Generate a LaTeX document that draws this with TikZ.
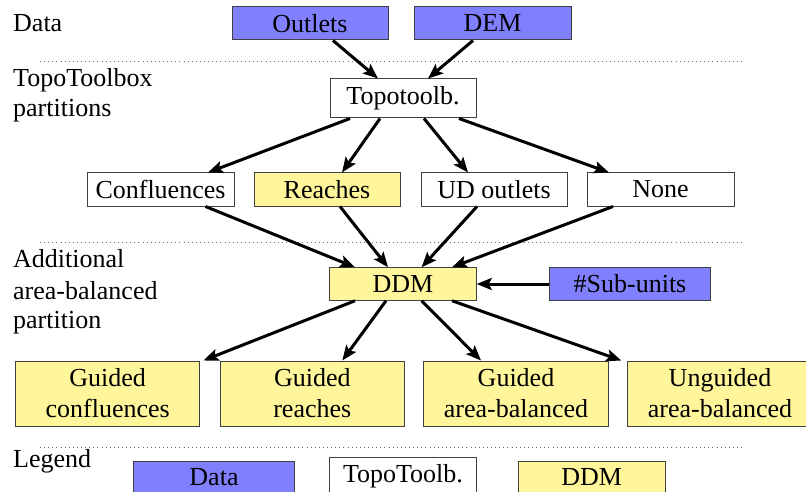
\documentclass[tikz,border=0pt]{standalone}
\usepackage{fontspec}
\setmainfont{Liberation Serif}
\usetikzlibrary{arrows.meta}
\definecolor{datablue}{RGB}{128,128,255}
\definecolor{ddmyellow}{RGB}{255,246,155}
\begin{document}
\begin{tikzpicture}[x=1pt,y=-1pt,
  font=\fontsize{26}{31}\selectfont,
  box/.style={draw=black!75,line width=1pt,rectangle,inner sep=0pt,align=center},
  databox/.style={box,fill=datablue},
  topobox/.style={box,fill=white},
  ddmbox/.style={box,fill=ddmyellow},
  conn/.style={line width=3pt,-{Stealth[length=15pt,width=12pt,inset=3pt]}},
  sep/.style={draw=black!60,line width=0.9pt,dash pattern=on 0.9pt off 3.2pt},
  lbl/.style={anchor=west,inner sep=0pt,align=left}]
\useasboundingbox (0,0) rectangle (806,492);
% separators
\draw[sep] (40,61) -- (743,61);
\draw[sep] (40,242) -- (743,242);
\draw[sep] (40,447) -- (743,447);
% labels
\node[lbl] (lData) at (13,23) {Data};
\node[lbl] (lTopo1) at (13,80) {TopoToolbox};
\node[lbl] (lTopo2) at (13,111) {partitions};
\node[lbl] (lAdd1) at (13,259) {Additional};
\node[lbl] (lAdd2) at (13,291) {area-balanced};
\node[lbl] (lAdd3) at (13,323) {partition};
\node[lbl] (lLeg) at (13,461) {Legend};
% nodes
\node[databox,minimum width=156pt,minimum height=33pt] (outlets) at (310,23.5) {Outlets};
\node[databox,minimum width=157pt,minimum height=33pt] (dem) at (492.5,23.5) {DEM};
\node[topobox,minimum width=146pt,minimum height=39pt] (topo) at (403,98.5) {Topotoolb.};
\node[topobox,minimum width=147pt,minimum height=33pt] (conf) at (160.5,189.5) {Confluences};
\node[ddmbox,minimum width=146pt,minimum height=33pt] (reach) at (327,189.5) {Reaches};
\node[topobox,minimum width=146pt,minimum height=33pt] (ud) at (494,189.5) {UD outlets};
\node[topobox,minimum width=147pt,minimum height=33pt] (none) at (660.5,189.5) {None};
\node[ddmbox,minimum width=146.5pt,minimum height=32.5pt] (ddm) at (403,284) {DDM};
\node[databox,minimum width=161.5pt,minimum height=32.5pt] (sub) at (630,284) {\#Sub-units};
\node[ddmbox,minimum width=184.5pt,minimum height=65pt] (gc) at (107.7,393.5) {Guided\\confluences};
\node[ddmbox,minimum width=184.5pt,minimum height=65pt] (gr) at (312.3,393.5) {Guided\\reaches};
\node[ddmbox,minimum width=184.5pt,minimum height=65pt] (ga) at (516,393.5) {Guided\\area-balanced};
\node[ddmbox,minimum width=184.5pt,minimum height=65pt] (ua) at (720,393.5) {Unguided\\area-balanced};
% legend
\node[databox,minimum width=161pt,minimum height=33pt] (legdata) at (214,477.5) {Data};
\node[topobox,minimum width=147pt,minimum height=39pt] (legtopo) at (403,476.5) {TopoToolb.};
\node[ddmbox,minimum width=147pt,minimum height=33pt] (legddm) at (591.7,477.5) {DDM};
% connectors
\draw[conn] ([xshift=23pt]outlets.south) -- ([xshift=-25pt]topo.north);
\draw[conn] ([xshift=-19.5pt]dem.south) -- ([xshift=25pt]topo.north);
\draw[conn] ([xshift=-53pt]topo.south) -- ([xshift=47.5pt]conf.north);
\draw[conn] ([xshift=-23pt]topo.south) -- ([xshift=15pt]reach.north);
\draw[conn] ([xshift=21pt]topo.south) -- ([xshift=-26pt]ud.north);
\draw[conn] ([xshift=56pt]topo.south) -- ([xshift=-51.5pt]none.north);
\draw[conn] ([xshift=45pt]conf.south) -- ([xshift=-48pt]ddm.north);
\draw[conn] ([xshift=13pt]reach.south) -- ([xshift=-15pt]ddm.north);
\draw[conn] ([xshift=-17pt]ud.south) -- ([xshift=18.6pt]ddm.north);
\draw[conn] ([xshift=-47.5pt]none.south) -- ([xshift=49pt]ddm.north);
\draw[conn] (sub.west) -- (ddm.east);
\draw[conn] ([xshift=-48pt]ddm.south) -- ([xshift=3pt]gc.north east);
\draw[conn] ([xshift=-17pt]ddm.south) -- ([xshift=30pt]gr.north);
\draw[conn] ([xshift=18.6pt]ddm.south) -- ([xshift=-35pt]ga.north);
\draw[conn] ([xshift=49pt]ddm.south) -- ([xshift=-6pt]ua.north west);
\end{tikzpicture}
\end{document}
